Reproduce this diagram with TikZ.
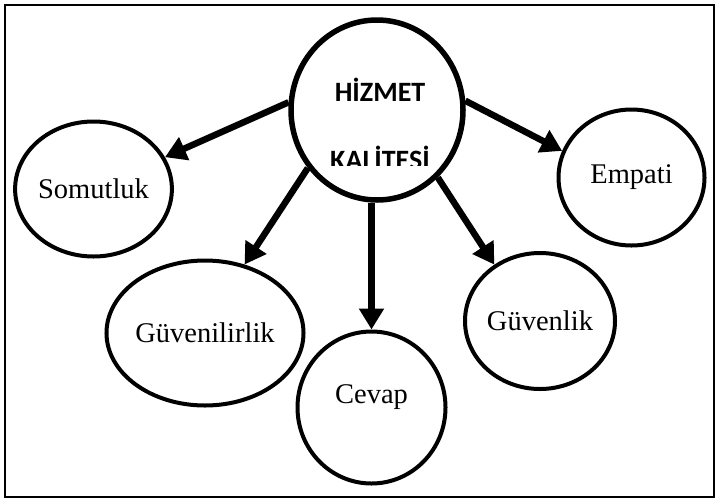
\documentclass[tikz,border=0pt]{standalone}
\usepackage{fontspec}
\setmainfont{Liberation Serif}
\newfontfamily\headfont{Carlito}
\usetikzlibrary{shapes.geometric,arrows.meta}

\begin{document}
\begin{tikzpicture}[x=1pt,y=-1pt,
        topic/.style={ellipse,draw,line width=4pt,inner sep=0pt,
            font=\fontsize{28.5}{30}\selectfont},
        link/.style={line width=6.5pt,-{Triangle[length=21pt,width=24pt]}}]
    \useasboundingbox (0,0) rectangle (719,501);
    \draw[line width=1.5pt] (5,5) rectangle (714,497);

    % centre circle and the five dimensions
    \node[ellipse,draw,line width=5.5pt,minimum width=172pt,minimum height=180pt] (hizmet) at (377,110) {};
    \begin{scope}
        \clip (290,20) rectangle (465,165);
        \node[font=\headfont\bfseries\fontsize{28}{30}\selectfont,align=center,inner sep=0pt,
            anchor=base] (hizmetyazi) at (380,169) {HİZMET\\[38pt]KALİTESİ};
    \end{scope}

    \node[topic,minimum width=148pt,minimum height=135pt] (somutluk) at (93.5,189) {Somutluk};
    \node[topic,minimum width=158pt,minimum height=145pt] (guvenilirlik) at (205,333) {Güvenilirlik};
    \node[topic,minimum width=148pt,minimum height=152pt,text height=19pt,text depth=28pt] (cevap) at (371.5,407.5) {Cevap};
    \node[topic,minimum width=148pt,minimum height=136pt] (guvenlik) at (540,321) {Güvenlik};
    \node[topic,minimum width=146pt,minimum height=136pt] (empati) at (631.5,177.5) {Empati};

    \draw[link] (hizmet.175) -- (somutluk.24);
    \draw[link] (hizmet.220) -- (guvenilirlik.60);
    \draw[link] (hizmet.south -| cevap.north) -- (cevap.north);
    \draw[link] (hizmet.312) -- (guvenlik.129);
    \draw[link] (hizmet.6) -- (empati.159);
\end{tikzpicture}
\end{document}
